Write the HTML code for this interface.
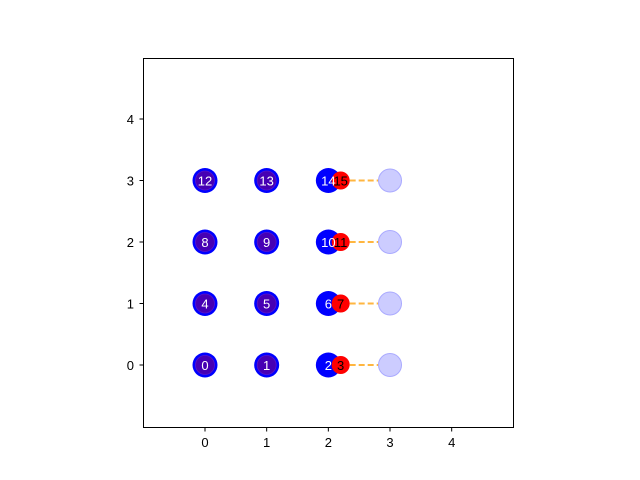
<!DOCTYPE html>
<html><head><style>
body{margin:0;background:#fff}
svg{display:block;font-family:"Liberation Sans","DejaVu Sans",sans-serif}
</style></head><body>
<svg id="c" width="640" height="480">
<rect x="143.5" y="58.5" width="370" height="369" fill="#fff" stroke="#000" stroke-width="1"/>
<g id="ticks"></g><g id="marks"></g>
</svg>
<script>
const xTicks=[0,1,2,3,4];
const yTicks=[0,1,2,3,4];
const blueX=[0,1,2];
const rows=[0,1,2,3];
const redX=[2.2];
const ghostX=[3];
const purpleCols=[0,1];
const ns="http://www.w3.org/2000/svg";
const X=v=>205+(v)*61.67;
const Y=v=>365-(v)*61.5;
const tk=document.getElementById('ticks'),mk=document.getElementById('marks');
function mkEl(t,a,p){const e=document.createElementNS(ns,t);for(const k in a)e.setAttribute(k,a[k]);p.appendChild(e);return e;}
xTicks.forEach(v=>{
 const l=mkEl('line',{x1:X(v),x2:X(v),y1:427.5,y2:431.5,stroke:'#000'},tk);
 
 
 const t=mkEl('text',{x:X(v),y:447,'font-size':13,'text-anchor':'middle'},tk);t.textContent=v;
 
 
});
yTicks.forEach(v=>{
 const l=mkEl('line',{x1:139.5,x2:143.5,y1:Y(v),y2:Y(v),stroke:'#000'},tk);
 
 
 const t=mkEl('text',{x:134,y:Y(v)+5,'font-size':13,'text-anchor':'end'},tk);t.textContent=v;
 
 
});
rows.forEach(r=>{
 ghostX.forEach(g=>{
  const ln=mkEl('line',{x1:X(redX[0]),x2:X(g),y1:Y(r),y2:Y(r),stroke:'#ffb640','stroke-width':2,'stroke-dasharray':'6,3'},mk);
  
  
  const c=mkEl('circle',{cx:X(g),cy:Y(r),r:11.5,fill:'#ccccff',stroke:'#aaaaff'},mk);
  
  
 });
 blueX.forEach((b,i)=>{
  const c=mkEl('circle',{cx:X(b),cy:Y(r),r:12.5,fill:'#0000ff'},mk);
  
  
  if(purpleCols.includes(b)){
   const p=mkEl('circle',{cx:X(b),cy:Y(r),r:9.5,fill:'#4600b4',stroke:'#5a14c8','stroke-width':0.8},mk);
   
   
  }
 });
 redX.forEach(rx=>{
  const c=mkEl('circle',{cx:X(rx),cy:Y(r),r:9,fill:'#ff0000'},mk);
  
  
 });
 blueX.forEach((b,i)=>{
  const t=mkEl('text',{x:X(b),y:Y(r)+5,'font-size':13,'text-anchor':'middle',fill:'#fff'},mk);
  t.textContent=r*4+i;
  
  
 });
 redX.forEach(rx=>{
  const t=mkEl('text',{x:X(rx),y:Y(r)+5,'font-size':13,'text-anchor':'middle',fill:'#000'},mk);
  t.textContent=r*4+3;
  
  
 });
});
</script>
</body></html>
